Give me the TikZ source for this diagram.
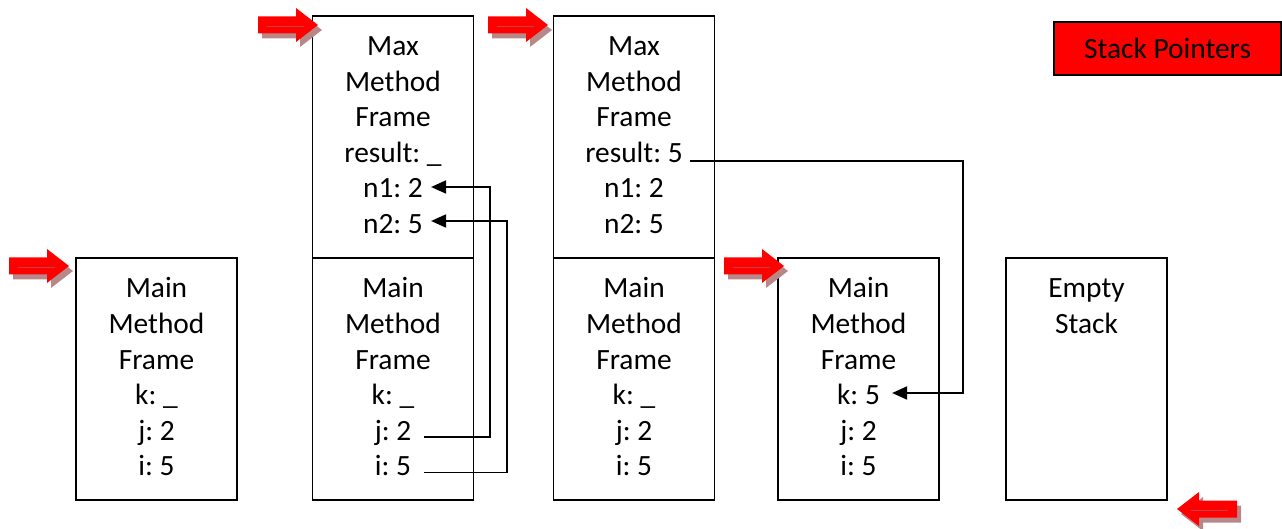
\documentclass[tikz,border=0pt]{standalone}
\usepackage{fontspec}
\setmainfont{Carlito}
\usetikzlibrary{arrows.meta,calc}
\frenchspacing
\definecolor{ptrred}{RGB}{255,0,0}
\definecolor{ptrshade}{RGB}{184,136,136}
\definecolor{ptrline}{RGB}{196,64,64}
% red stack-pointer arrow: tip x, tip y, direction (1 = right, -1 = left)
\newcommand\stackptr[3]{%
  \begin{scope}[shift={(#1+4,#2+5)},xscale=#3]
    \fill[ptrshade] (-60,-8.5) -- (-22,-8.5) -- (-22,-17) -- (0,0) -- (-22,17) -- (-22,8.5) -- (-60,8.5) -- cycle;
  \end{scope}
  \begin{scope}[shift={(#1,#2)},xscale=#3]
    \fill[ptrred] (-60,-8.5) -- (-22,-8.5) -- (-22,-17) -- (0,0) -- (-22,17) -- (-22,8.5) -- (-60,8.5) -- cycle;
    \draw[ptrline,line width=0.8pt] (-51,1) -- (-14,1);
  \end{scope}}
\begin{document}
\begin{tikzpicture}[x=1pt,y=-1pt,
  frame/.style={draw,line width=1.8pt,inner sep=0,minimum width=161pt},
  lowframe/.style={frame,minimum height=242pt},
  txt/.style={anchor=base,inner sep=0,font=\fontsize{29.4}{35}\selectfont},
  link/.style={draw,line width=1.9pt,-{Triangle[length=15pt,width=13pt]}}]
\useasboundingbox (0,0) rectangle (1282,529);

% frames
\node[lowframe] (fA) at (156.5,379) {};
\node[frame,minimum height=242pt] (fBtop) at (393,137) {};
\node[lowframe] (fBbot) at (393,379) {};
\node[frame,minimum height=242pt] (fCtop) at (634,137) {};
\node[lowframe] (fCbot) at (634,379) {};
\node[lowframe] (fD) at (858.5,379) {};
\node[lowframe] (fE) at (1086.5,379) {};

% frame contents
\foreach \t [count=\i] in {Main,Method,Frame,k: \_,j: 2,i: 5}
  \node[txt] (a\i) at (156.5,{298+35.5*(\i-1)}) {\t};
\foreach \t [count=\i] in {Max,Method,Frame,result: \_,n1: 2,n2: 5}
  \node[txt] (bt\i) at (393,{56+35.5*(\i-1)}) {\t};
\foreach \t [count=\i] in {Main,Method,Frame,k: \_,j: 2,i: 5}
  \node[txt] (bb\i) at (393,{298+35.5*(\i-1)}) {\t};
\foreach \t [count=\i] in {Max,Method,Frame,result: 5,n1: 2,n2: 5}
  \node[txt] (ct\i) at (634,{56+35.5*(\i-1)}) {\t};
\foreach \t [count=\i] in {Main,Method,Frame,k: \_,j: 2,i: 5}
  \node[txt] (cb\i) at (634,{298+35.5*(\i-1)}) {\t};
\foreach \t [count=\i] in {Main,Method,Frame,k: 5,j: 2,i: 5}
  \node[txt] (d\i) at (858.5,{298+35.5*(\i-1)}) {\t};
\node[txt] (e1) at (1086.5,298) {Empty};
\node[txt] (e2) at (1086.5,333.5) {Stack};

% legend
\node[draw,line width=1.5pt,fill=ptrred,minimum width=227pt,minimum height=53pt,
      inner sep=0,font=\fontsize{29.4}{35}\selectfont] (legend) at (1167.5,48.5) {Stack Pointers};

% parameter passing and return value
\coordinate (jturn) at (490,187);
\coordinate (iturn) at (507,221);
\coordinate (rturn) at (963,393);
\draw[link] ([xshift=13pt,yshift=-5pt]bb5.east) -| (jturn) -- ([xshift=8pt]bt5.east |- jturn);
\draw[link] ([xshift=13pt,yshift=-7pt]bb6.east) -| (iturn) -- ([xshift=8pt]bt6.east |- iturn);
\draw[link] ([xshift=7pt,yshift=-9pt]ct4.east) -| (rturn) -- ([xshift=12pt]d4.east |- rturn);

% stack pointers
\stackptr{69}{266}{1}
\stackptr{318}{25}{1}
\stackptr{548}{25}{1}
\stackptr{784}{266}{1}
\stackptr{1177}{509}{-1}
\end{tikzpicture}
\end{document}
